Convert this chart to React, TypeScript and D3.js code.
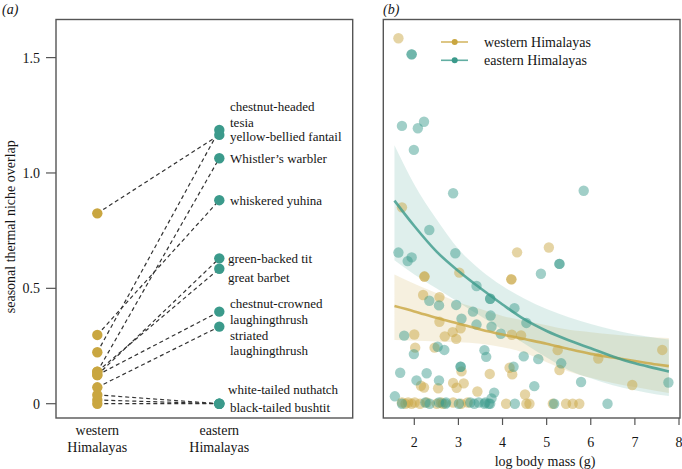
import React from "react";
import * as d3 from "d3";

const GOLD = "#C9A640";
const TEAL = "#3B9A8B";

// Panel (a)
const groups = ["western", "eastern"];
const species = [
  "chestnut-headed tesia", "yellow-bellied fantail", "Whistler's warbler", "whiskered yuhina",
  "green-backed tit", "great barbet", "chestnut-crowned laughingthrush", "striated laughingthrush",
  "white-tailed nuthatch", "black-tailed bushtit", "unlabelled",
];
const westVals = [0.223, 0.825, 0.139, 0.298, 0.124, 0.139, 0.124, 0.071, 0.016, 0.0, 0.038];
const eastVals = [1.186, 1.165, 1.064, 0.882, 0.63, 0.585, 0.399, 0.334, 0.0, 0.0, 0.0];
const labelTexts = [
  "chestnut-headed", "tesia", "yellow-bellied fantail", "Whistler\u2019s warbler", "whiskered yuhina",
  "green-backed tit", "great barbet", "chestnut-crowned", "laughingthrush", "striated",
  "laughingthrush", "white-tailed nuthatch", "black-tailed bushtit",
];
const labelVals = [1.29, 1.22, 1.16, 1.062, 0.882, 0.63, 0.548, 0.435, 0.367, 0.297, 0.232, 0.06, -0.017];
const labelShift = [0, 0, 0, 0, 0, -2, -2, 0, 0, 0, 0, -2, 0];
const yTicksA = [0, 0.5, 1.0, 1.5];
const yTickLabelsA = ["0", "0.5", "1.0", "1.5"];

// Panel (b) points: [log body mass, overlap]
const westPts: [number, number][] = [
  [1.64, 1.584], [1.72, 0.851], [4.33, 0.656], [5.05, 0.677], [4.2, 0.539], [4.2, 0.539],
  [2.23, 0.551], [2.23, 0.551], [3.02, 0.568], [2.2, 0.471], [2.57, 0.462], [2.57, 0.355],
  [3.05, 0.327], [2.87, 0.31], [2.69, 0.292], [2.95, 0.281], [4.21, 0.299], [4.42, 0.296],
  [2.0, 0.3], [2.02, 0.243], [2.46, 0.243], [5.25, 0.232], [6.17, 0.196], [7.62, 0.233],
  [3.07, 0.14], [4.16, 0.156], [4.22, 0.127], [3.71, 0.129], [5.29, 0.146], [2.15, 0.078],
  [2.22, 0.07], [2.54, 0.067], [2.88, 0.09], [2.96, 0.069], [3.12, 0.088], [6.94, 0.081],
  [4.51, 0.04], [3.43, 0.053],
  [1.72, 0.005], [1.8, 0.0], [1.86, 0.005], [1.94, 0.0], [2.01, 0.005], [2.13, 0.0], [2.28, 0.005],
  [2.51, 0.0], [2.61, 0.005], [2.65, 0.0], [2.88, 0.005], [3.06, 0.0], [3.21, 0.005], [4.08, 0.0],
  [4.54, 0.0], [4.61, 0.0], [5.14, 0.0], [5.44, 0.0], [5.59, 0.0], [5.74, 0.0],
];
const eastPts: [number, number][] = [
  [1.94, 1.514], [1.94, 1.514], [1.72, 1.204], [2.08, 1.194], [2.22, 1.222], [1.99, 1.1],
  [2.88, 0.912], [5.84, 0.923], [2.34, 0.753], [1.64, 0.655], [1.85, 0.618], [1.94, 0.634],
  [2.93, 0.652], [5.29, 0.606], [5.29, 0.606], [4.87, 0.563], [3.41, 0.51], [3.72, 0.455],
  [3.72, 0.455], [4.27, 0.414], [4.54, 0.35], [2.34, 0.446], [2.56, 0.426], [2.95, 0.428],
  [3.33, 0.399], [3.73, 0.382], [3.07, 0.368], [3.41, 0.343], [3.75, 0.334], [3.96, 0.303],
  [1.77, 0.295], [2.53, 0.247], [2.68, 0.233], [1.99, 0.215], [3.59, 0.232], [3.63, 0.203],
  [4.48, 0.205], [4.81, 0.193], [5.33, 0.175], [1.68, 0.134], [2.28, 0.132], [3.05, 0.16],
  [3.05, 0.16], [4.25, 0.16], [2.05, 0.101], [2.56, 0.101], [5.78, 0.094], [7.76, 0.092],
  [4.72, 0.076], [3.81, 0.048], [3.75, 0.023], [1.56, 0.032],
  [1.72, 0.0], [2.25, 0.005], [2.35, 0.0], [2.56, 0.005], [2.71, 0.0], [2.72, 0.005], [3.01, 0.0],
  [3.27, 0.005], [3.36, 0.0], [3.46, 0.005], [3.59, 0.0], [3.61, 0.005], [3.69, 0.0], [3.72, 0.0],
  [4.28, 0.0], [5.17, 0.0], [6.38, 0.0],
];

// Fitted curves and confidence bands
const fitX = [1.55, 2.0, 2.5, 3.0, 3.5, 4.0, 4.5, 5.0, 5.5, 6.0, 6.5, 7.0, 7.5, 7.77];
const eastFit = [0.88, 0.77, 0.66, 0.575, 0.5, 0.43, 0.365, 0.315, 0.275, 0.24, 0.205, 0.175, 0.152, 0.139];
const eastLo = [0.622, 0.56, 0.5, 0.44, 0.38, 0.32, 0.26, 0.2, 0.145, 0.11, 0.08, 0.058, 0.04, 0.033];
const eastHi = [1.12, 0.95, 0.8, 0.67, 0.58, 0.51, 0.455, 0.41, 0.375, 0.345, 0.32, 0.3, 0.285, 0.278];
const westFit = [0.423, 0.4, 0.372, 0.347, 0.322, 0.3, 0.28, 0.26, 0.237, 0.216, 0.2, 0.185, 0.17, 0.163];
const westLo = [0.276, 0.273, 0.27, 0.266, 0.26, 0.245, 0.22, 0.18, 0.14, 0.112, 0.09, 0.072, 0.055, 0.046];
const westHi = [0.56, 0.52, 0.48, 0.44, 0.41, 0.38, 0.36, 0.34, 0.32, 0.31, 0.3, 0.292, 0.287, 0.285];
const xTicksB = [2, 3, 4, 5, 6, 7, 8];
const legendItems = ["western Himalayas", "eastern Himalayas"];

const FONT = "'Liberation Serif', 'Times New Roman', serif";
const INK = "#151515";

export default function App() {
  const y = d3.scaleLinear().domain([0, 1.5]).range([403.7, 57.6]);
  const xA = d3.scalePoint<string>().domain(groups).range([97.3, 219.3]);
  const xB = d3.scaleLinear().domain([2, 8]).range([414.3, 679]);

  const boxTop = 19.5, boxBot = 418;
  const line = d3.line<number>().x((_, i) => xB(fitX[i])).y((v) => y(v)).curve(d3.curveMonotoneX);
  const area = (lo: number[], hi: number[]) =>
    d3.area<number>().x((_, i) => xB(fitX[i])).y0((_, i) => y(lo[i])).y1((_, i) => y(hi[i])).curve(d3.curveMonotoneX)(fitX);

  return (
    <svg width={682} height={469} style={{ position: "absolute", left: 0, top: 0, fontFamily: FONT }}>
      <rect width={682} height={469} fill="#fff" />
      {/* Panel a */}
      <text x={2} y={14} fontSize={14} fontStyle="italic" fill={INK}>(a)</text>
      <rect x={56} y={boxTop} width={296.7} height={boxBot - boxTop} fill="none" stroke="#555" strokeWidth={1.4} />
      {yTicksA.map((t, i) => (
        <g key={t}>
          <line x1={46} x2={56} y1={y(t)} y2={y(t)} stroke="#555" strokeWidth={1.2} />
          <text x={40} y={y(t)} dy="0.35em" textAnchor="end" fontSize={14} fill={INK}>{yTickLabelsA[i]}</text>
        </g>
      ))}
      <text transform={`translate(15,${(boxTop + boxBot) / 2 + 8}) rotate(-90)`} textAnchor="middle" fontSize={14} fill={INK}>
        seasonal thermal niche overlap
      </text>
      {groups.map((g) => (
        <g key={g}>
          <text x={xA(g)} y={435} textAnchor="middle" fontSize={14} fill={INK}>{g}</text>
          <text x={xA(g)} y={452} textAnchor="middle" fontSize={14} fill={INK}>Himalayas</text>
        </g>
      ))}
      {species.map((s, i) => (
        <line key={s} x1={xA("western")} y1={y(westVals[i])} x2={xA("eastern")} y2={y(eastVals[i])}
          stroke="#333" strokeWidth={1.2} strokeDasharray="4,3" />
      ))}
      {westVals.map((v, i) => <circle key={"w" + i} cx={xA("western")} cy={y(v)} r={5.2} fill={GOLD} />)}
      {eastVals.map((v, i) => <circle key={"e" + i} cx={xA("eastern")} cy={y(v)} r={5.2} fill={TEAL} />)}
      {labelTexts.map((t, i) => (
        <text key={i} x={230 + labelShift[i]} y={y(labelVals[i])} dy="0.35em" fontSize={13} fill={INK}>{t}</text>
      ))}

      {/* Panel b */}
      <text x={383} y={14} fontSize={14} fontStyle="italic" fill={INK}>(b)</text>
      <path d={area(westLo, westHi) || ""} fill={GOLD} fillOpacity={0.17} />
      <path d={area(eastLo, eastHi) || ""} fill={TEAL} fillOpacity={0.16} />
      {westPts.map((p, i) => <circle key={"wp" + i} cx={xB(p[0])} cy={y(p[1])} r={5.2} fill={GOLD} fillOpacity={0.48} />)}
      {eastPts.map((p, i) => <circle key={"ep" + i} cx={xB(p[0])} cy={y(p[1])} r={5.2} fill={TEAL} fillOpacity={0.48} />)}
      <path d={line(westFit) || ""} fill="none" stroke={GOLD} strokeOpacity={0.8} strokeWidth={2.6} />
      <path d={line(eastFit) || ""} fill="none" stroke={TEAL} strokeOpacity={0.8} strokeWidth={2.6} />
      <rect x={383.3} y={boxTop} width={296.7} height={boxBot - boxTop} fill="none" stroke="#555" strokeWidth={1.4} />
      {xTicksB.map((t) => (
        <g key={t}>
          <line x1={xB(t)} x2={xB(t)} y1={boxBot} y2={boxBot + 7} stroke="#555" strokeWidth={1.2} />
          <text x={xB(t)} y={447} textAnchor="middle" fontSize={14} fill={INK}>{t}</text>
        </g>
      ))}
      <text x={545} y={466} textAnchor="middle" fontSize={14} fill={INK}>log body mass (g)</text>
      {legendItems.map((t, i) => {
        const ly = 42 + i * 18.3;
        const c = i === 0 ? GOLD : TEAL;
        return (
          <g key={t}>
            <line x1={441} x2={468} y1={ly} y2={ly} stroke={c} strokeOpacity={0.8} strokeWidth={1.6} />
            <circle cx={454.7} cy={ly} r={3} fill={c} />
            <text x={484} y={ly} dy="0.35em" fontSize={14} fill={INK}>{t}</text>
          </g>
        );
      })}
    </svg>
  );
}
